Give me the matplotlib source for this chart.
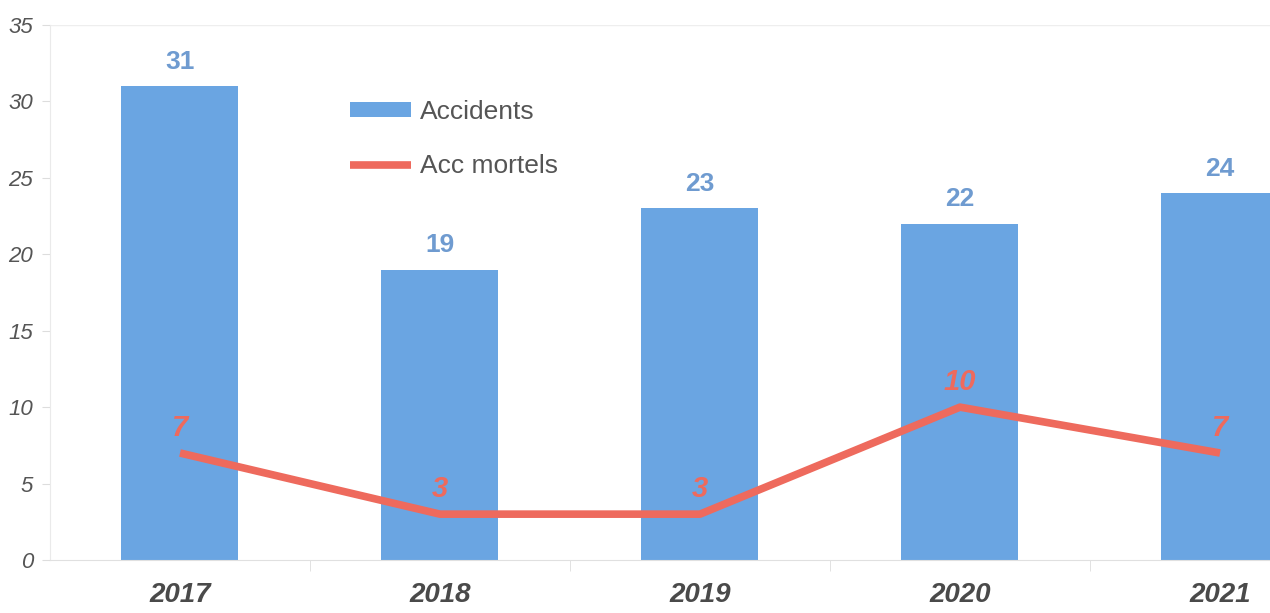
import matplotlib.pyplot as plt
import numpy as np

plt.rcParams['font.family'] = ['Liberation Sans', 'DejaVu Sans']

years = ['2017', '2018', '2019', '2020', '2021']
accidents = [31, 19, 23, 22, 24]
acc_mortels = [7, 3, 3, 10, 7]

bar_color = '#6aa5e2'
line_color = '#ee6a5d'

fig = plt.figure(figsize=(12.7, 6.13), dpi=100)
# axes run past the right edge, last bar is cut off
ax = fig.add_axes([50 / 1270, 53 / 613, 1300 / 1270, 535 / 613])

x = np.arange(len(years))
bars = ax.bar(x, accidents, width=0.45, color=bar_color, label='Accidents', zorder=2)
line, = ax.plot(x, acc_mortels, color=line_color, lw=5.5, solid_capstyle='butt',
                label='Acc mortels', zorder=3)

for xi, v in zip(x, accidents):
    ax.annotate(str(v), (xi, v), xytext=(0, 9), textcoords='offset points',
                ha='center', va='bottom', fontsize=19, fontweight='bold',
                color='#6f9bd0')
for xi, v in zip(x, acc_mortels):
    ax.annotate(str(v), (xi, v), xytext=(0, 8), textcoords='offset points',
                ha='center', va='bottom', fontsize=21, fontweight='bold',
                fontstyle='italic', color=line_color)

ax.set_xlim(-0.5, 4.5)
ax.set_ylim(0, 35)
ax.set_yticks(range(0, 36, 5))
ax.set_xticks(x)
ax.set_xticklabels(years, fontsize=20, fontweight='bold', fontstyle='italic',
                   color='#4a4a4a')
ax.set_xticks(x[:-1] + 0.5, minor=True)
ax.tick_params(axis='x', which='major', length=0, pad=16)
ax.tick_params(axis='x', which='minor', length=8, color='#dddddd')
ax.tick_params(axis='y', length=6, color='#dddddd', labelsize=16,
               labelcolor='#555555', pad=6)
for lbl in ax.get_yticklabels():
    lbl.set_fontstyle('italic')

ax.axhline(35, color='#eeeeee', lw=1, zorder=0)
for side in ['top', 'right']:
    ax.spines[side].set_visible(False)
ax.spines['left'].set_color('#eaeaea')
ax.spines['bottom'].set_color('#e0e0e0')

ax.legend([bars, line], ['Accidents', 'Acc mortels'], loc='upper left',
          bbox_to_anchor=(0.231, 0.86), frameon=False, borderpad=0,
          borderaxespad=0, fontsize=19, labelcolor='#555555', handlelength=2.3,
          handleheight=0.45, labelspacing=1.15, handletextpad=0.35)

fig.savefig('out.png', dpi=100)
